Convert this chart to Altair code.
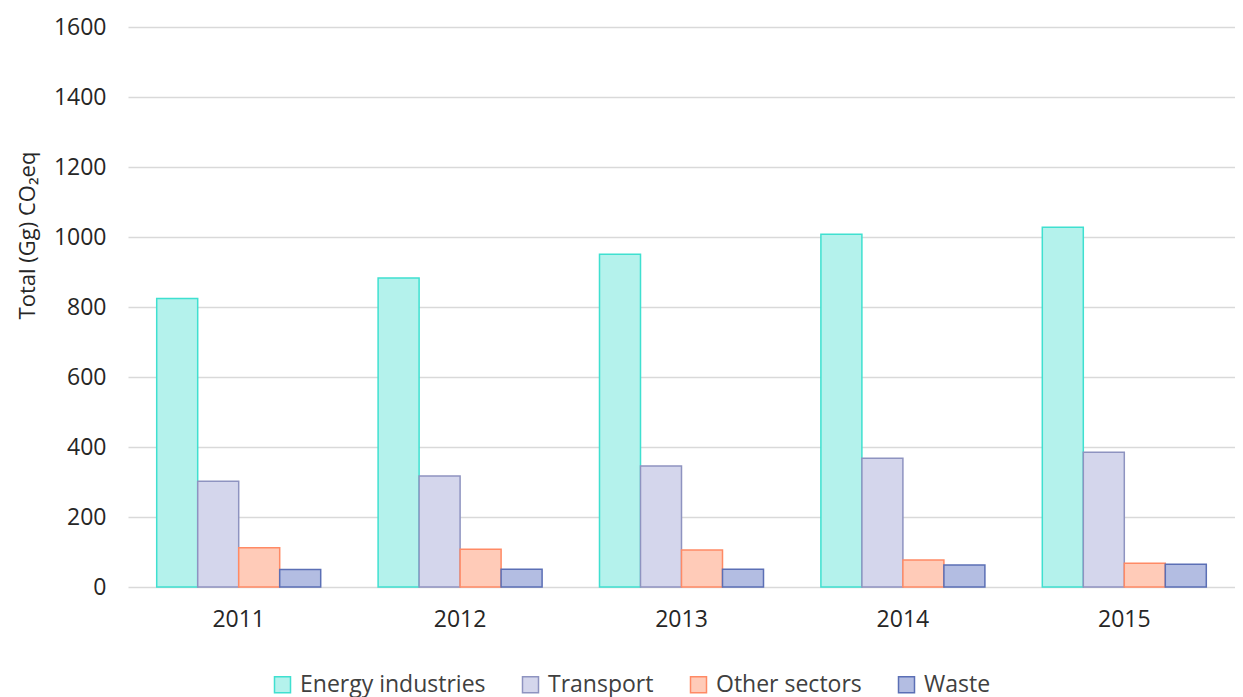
import altair as alt
import pandas as pd

years = ["2011", "2012", "2013", "2014", "2015"]
sectors = ["Energy industries", "Transport", "Other sectors", "Waste"]
energy = [824, 883, 951, 1008, 1028]
transport = [302, 317, 346, 368, 385]
other = [112, 108, 106, 77, 68]
waste = [50, 51, 51, 63, 65]

fills = ["#b4f2ec", "#d4d6ec", "#ffcbb8", "#b3bde2"]
strokes = ["#3fe0d0", "#8e93c0", "#ff8a65", "#5b6fb5"]

rows = []
for name, vals in zip(sectors, [energy, transport, other, waste]):
    for y, v in zip(years, vals):
        rows.append({"Year": y, "Sector": name, "Value": v})
df = pd.DataFrame(rows)

font = "Open Sans"

legend_kw = dict(title=None, orient="none", direction="horizontal",
                 legendX=143, legendY=646,
                 symbolType="square", symbolSize=256,
                 symbolStrokeWidth=1.5, labelFontSize=23,
                 labelFont=font, labelColor="#404040", labelLimit=0,
                 columnPadding=33, labelOffset=6)

chart = alt.Chart(df).mark_bar(strokeWidth=1.5).encode(
    x=alt.X("Year:N", sort=years, title=None,
            scale=alt.Scale(paddingInner=0, paddingOuter=0),
            axis=alt.Axis(labelAngle=0, labelFontSize=23, labelColor="#262626",
                          labelFont=font, labelFontWeight=500, ticks=False,
                          domain=False, labelPadding=21)),
    xOffset=alt.XOffset("Sector:N", sort=sectors,
                        scale=alt.Scale(paddingInner=0, paddingOuter=0.7)),
    y=alt.Y("Value:Q", title="Total (Gg) CO₂eq",
            scale=alt.Scale(domain=[0, 1600], nice=False),
            axis=alt.Axis(values=list(range(0, 1601, 200)), format="d",
                          labelFontSize=23,
                          labelColor="#262626", labelFont=font, labelFontWeight=500,
                          ticks=False, domain=False, labelPadding=22,
                          gridColor="#d9d9d9", gridWidth=1.5,
                          titleFont=font, titleFontSize=22, titleFontWeight="normal",
                          titleColor="#262626", titleX=-101, titleY=208,
                          titleAlign="center", titleBaseline="middle", titleAngle=270)),
    fill=alt.Fill("Sector:N", sort=sectors,
                  scale=alt.Scale(domain=sectors, range=fills),
                  legend=alt.Legend(**legend_kw)),
    stroke=alt.Stroke("Sector:N", sort=sectors,
                      scale=alt.Scale(domain=sectors, range=strokes),
                      legend=alt.Legend(**legend_kw)),
).properties(
    width=1107, height=560,
    autosize=alt.AutoSizeParams(type="none"),
    padding={"left": 120, "top": 19, "right": 0, "bottom": 114},
).configure_view(stroke=None).configure_axis(grid=True).configure_axisX(grid=False)

chart.save("out.html", embed_options={"renderer": "svg", "actions": False})
